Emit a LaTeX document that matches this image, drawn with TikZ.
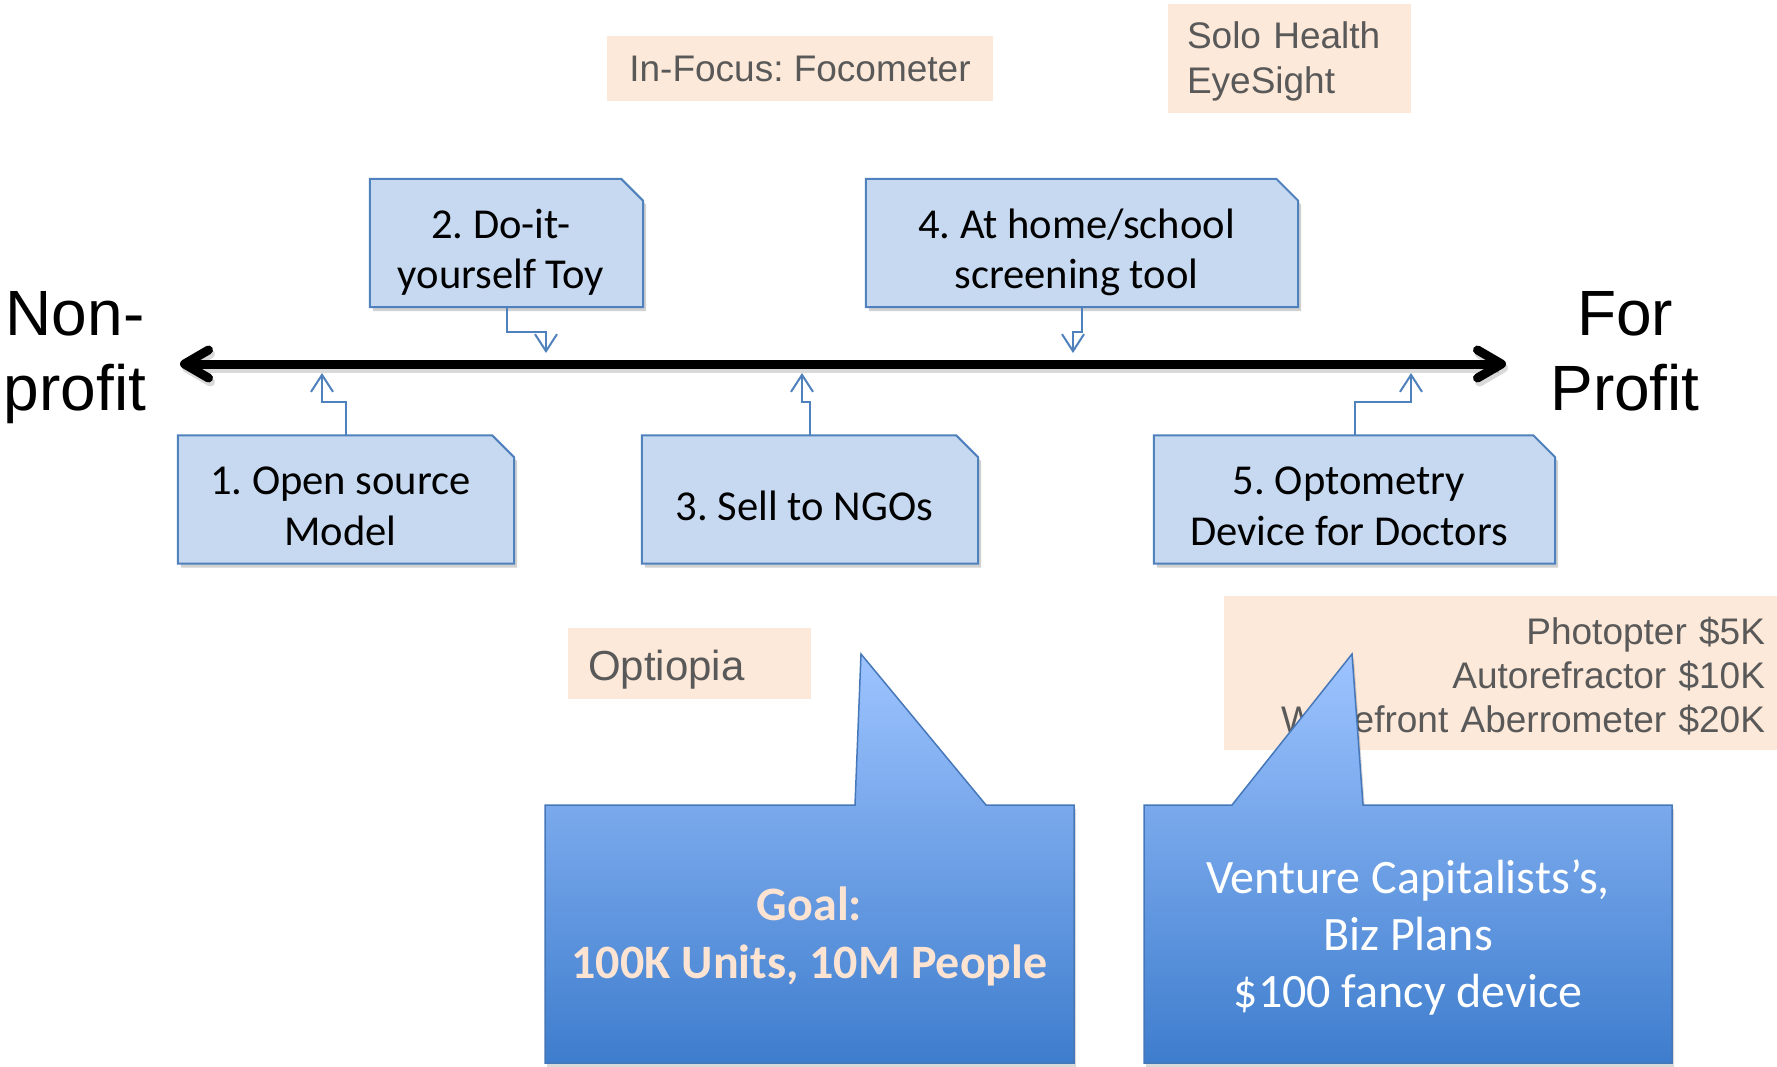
\documentclass[tikz,border=0pt]{standalone}
\usepackage{fontspec}
\setmainfont{Liberation Sans}
\newfontfamily\carlito{Carlito}
\usetikzlibrary{arrows.meta,calc,backgrounds}
\definecolor{boxfill}{RGB}{198,217,241}
\definecolor{boxline}{RGB}{79,129,189}
\definecolor{beige}{RGB}{253,233,217}
\definecolor{greytext}{RGB}{89,89,89}
\definecolor{calltop}{RGB}{158,196,255}
\definecolor{callbot}{RGB}{62,125,205}
\definecolor{callline}{RGB}{70,120,185}
\definecolor{goaltext}{RGB}{253,228,210}
\frenchspacing
% pads a line on the right so that centred text sits a little left of the box centre
\newcommand\padr[1]{#1\hbox to 11pt{}}
\begin{document}
\begin{tikzpicture}[x=1pt,y=-1pt,
  bluebox/.style={inner sep=0pt, minimum width=#1, minimum height=128pt, align=center,
     font=\carlito\fontsize{42.6}{51}\selectfont\frenchspacing, text depth=4pt},
  boxshape/.style={fill=boxfill, draw=boxline, line width=2pt},
  boxshadow/.style={fill=black, opacity=.18, transform canvas={xshift=3pt,yshift=-4pt}},
  beigebox/.style={fill=beige, inner ysep=0pt, text=greytext},
  conn/.style={draw=boxline, line width=2pt, -{Straight Barb[length=17pt,width=22pt]}},
  mainarrow/.style={line width=9pt, {Straight Barb[length=24pt,width=28pt,round]}-{Straight Barb[length=24pt,width=28pt,round]}},
  sidetext/.style={align=center, font=\fontsize{64}{75}\selectfont, inner sep=0pt, text height=121pt, text depth=13pt},
  callout/.style={draw=callline, line width=1.5pt, top color=calltop, bottom color=callbot},
  callshadow/.style={fill=black, opacity=.15, transform canvas={xshift=2pt,yshift=-4pt}}]

\begin{scope}[on background layer]
  \fill[white] (0,0) rectangle (1777,1067);
\end{scope}
\useasboundingbox (0,0) rectangle (1777,1067);

% beige notes
\node[beigebox, minimum width=386pt, minimum height=65pt, inner xsep=0pt,
      font=\fontsize{37}{44}\selectfont\frenchspacing, text height=26.5pt, text depth=0pt]
      (infocus) at (800,68.5) {In-Focus: Focometer};
\node[beigebox, minimum width=243pt, minimum height=109pt, inner xsep=19pt, text width=205pt, align=left,
      font=\fontsize{37}{45}\selectfont, text height=27pt, text depth=46pt]
      (solo) at (1289.5,58.5) {Solo Health\\EyeSight};
\node[beigebox, minimum width=243pt, minimum height=71pt, inner xsep=20pt, text width=203pt, align=left,
      font=\fontsize{42}{50}\selectfont, text height=33pt, text depth=0pt]
      (optiopia) at (689.5,663.5) {Optiopia};
\node[beigebox, minimum width=553pt, minimum height=154pt, inner xsep=12pt, text width=529pt, align=right,
      font=\fontsize{37}{44}\selectfont, text height=27pt, text depth=85pt]
      (prices) at (1500.5,673) {Photopter \$5K\\Autorefractor \$10K\\Wavefront Aberrometer \$20K};

% callouts
\fill[callshadow] (545,805) -- (855,805) -- (861,654) -- (986,805) -- (1074,805) -- (1074,1063) -- (545,1063) -- cycle;
\path[callout] (545,805) -- (855,805) -- (861,654) -- (986,805) -- (1074,805) -- (1074,1063) -- (545,1063) -- cycle;
\node[font=\carlito\bfseries\fontsize{48}{58}\selectfont, text=goaltext, align=center, inner sep=0pt,
      text height=89pt, text depth=10pt] (goal) at (809.5,939) {Goal:\\100K Units, 10M People};

\fill[callshadow] (1144,805) -- (1232,805) -- (1352,654) -- (1363,805) -- (1672,805) -- (1672,1063) -- (1144,1063) -- cycle;
\path[callout] (1144,805) -- (1232,805) -- (1352,654) -- (1363,805) -- (1672,805) -- (1672,1063) -- (1144,1063) -- cycle;
\node[font=\carlito\fontsize{48}{57}\selectfont, text=white, align=center, inner sep=0pt,
      text height=145pt, text depth=10pt] (vc) at (1408,940) {Venture Capitalists’s,\\Biz Plans\\\$100 fancy device};

% side labels
\node[sidetext] (np) at (75,356) {Non-\\profit};
\node[sidetext] (fp) at (1625,356) {For\\Profit};

% main axis
\coordinate (L) at (180,364);
\coordinate (R) at (1506,364);
\draw[mainarrow, black, opacity=.15, transform canvas={xshift=2pt,yshift=-4pt}] (L) -- (R);
\draw[mainarrow] (L) -- (R);

% blue boxes
\node[bluebox=336pt, text height=96pt] (b1) at (346,499.5) {\padr{1. Open source}\\\padr{Model}};
\node[bluebox=273pt, text height=96pt] (b2) at (506.5,243) {\padr{2. Do-it-}\\\padr{yourself Toy}};
\node[bluebox=336pt, text height=45pt] (b3) at (810,499.5) {\padr{3. Sell to NGOs}};
\node[bluebox=432pt, text height=96pt] (b4) at (1082,243) {\padr{4. At home/school}\\\padr{screening tool}};
\node[bluebox=401pt, text height=96pt] (b5) at (1354.5,499.5) {\padr{5. Optometry}\\\padr{Device for Doctors}};

\begin{scope}[on background layer]
  \foreach \b in {b1,b2,b3,b4,b5} {
    \fill[boxshadow] (\b.south west) -- (\b.north west) -- ($(\b.north east)+(-22,0)$) -- ($(\b.north east)+(0,22)$) -- (\b.south east) -- cycle;
    \path[boxshape] (\b.south west) -- (\b.north west) -- ($(\b.north east)+(-22,0)$) -- ($(\b.north east)+(0,22)$) -- (\b.south east) -- cycle;
  }
\end{scope}

% connectors
\coordinate (t1) at (322,373);
\coordinate (t2) at (546,353);
\coordinate (t3) at (802,373);
\coordinate (t4) at (1073,353);
\coordinate (t5) at (1411,373);
\draw[conn] (b1.north) -- ++(0,-33) -| (t1);
\draw[conn] (b2.south) -- ++(0,25) -| (t2);
\draw[conn] (b3.north) -- ++(0,-33) -| (t3);
\draw[conn] (b4.south) -- ++(0,25) -| (t4);
\draw[conn] (b5.north) -- ++(0,-33) -| (t5);
\end{tikzpicture}
\end{document}
